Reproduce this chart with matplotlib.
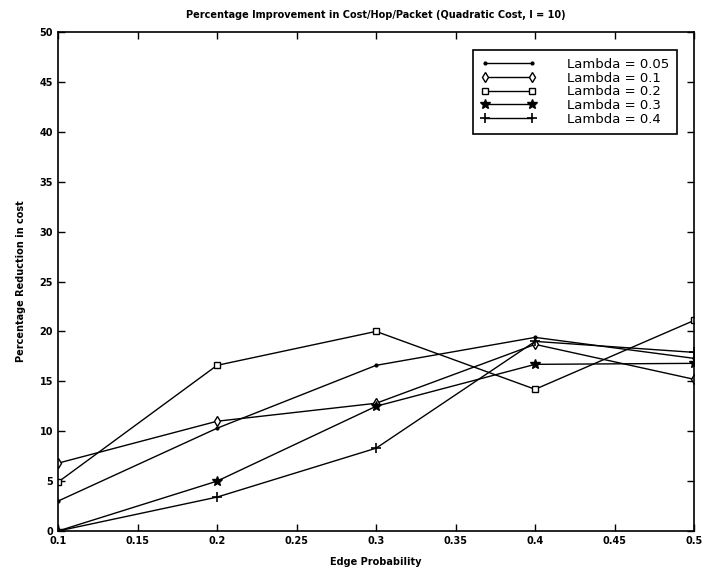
import matplotlib
matplotlib.use("Agg")
import matplotlib.pyplot as plt

# edge probability vs percentage reduction in cost, one list per lambda
edge_prob = [0.1, 0.2, 0.3, 0.4, 0.5]
lam_005 = [3.0, 10.3, 16.6, 19.4, 17.3]
lam_01 = [6.8, 11.0, 12.8, 18.7, 15.2]
lam_02 = [4.9, 16.6, 20.0, 14.2, 21.1]
lam_03 = [0.0, 5.0, 12.5, 16.7, 16.8]
lam_04 = [0.0, 3.4, 8.3, 19.0, 17.9]

labels = ["Lambda = 0.05", "Lambda = 0.1", "Lambda = 0.2", "Lambda = 0.3", "Lambda = 0.4"]
xticks = [0.1, 0.15, 0.2, 0.25, 0.3, 0.35, 0.4, 0.45, 0.5]
xticklabels = ["0.1", "0.15", "0.2", "0.25", "0.3", "0.35", "0.4", "0.45", "0.5"]

fig = plt.figure(figsize=(7.06, 5.71), dpi=100)
ax = fig.add_axes([0.0822, 0.070, 0.901, 0.874])

ax.plot(edge_prob, lam_005, "k-", marker=".", ms=4, lw=1, label=labels[0])
ax.plot(edge_prob, lam_01, "k-", marker="d", ms=5, mfc="white", lw=1, label=labels[1])
ax.plot(edge_prob, lam_02, "k-", marker="s", ms=4.5, mfc="white", lw=1, label=labels[2])
ax.plot(edge_prob, lam_03, "k-", marker="*", ms=7, lw=1, label=labels[3])
ax.plot(edge_prob, lam_04, "k-", marker="+", ms=7, mew=1.2, lw=1, label=labels[4])

ax.set_xlim(0.1, 0.5)
ax.set_ylim(0, 50)
ax.set_xticks(xticks)
ax.set_xticklabels(xticklabels)
ax.set_yticks(range(0, 51, 5))
ax.tick_params(direction="in", top=True, right=True, length=5, width=1, labelsize=7)
for lbl in ax.get_xticklabels() + ax.get_yticklabels():
    lbl.set_fontweight("bold")
for s in ax.spines.values():
    s.set_linewidth(1.2)

ax.set_title("Percentage Improvement in Cost/Hop/Packet (Quadratic Cost, l = 10)",
             fontsize=7, fontweight="bold", pad=10)
ax.set_xlabel("Edge Probability", fontsize=7, fontweight="bold", labelpad=8)
ax.set_ylabel("Percentage Reduction in cost", fontsize=7, fontweight="bold", labelpad=10)

leg = ax.legend(loc="upper right", bbox_to_anchor=(0.983, 0.977), fontsize=9.5,
                numpoints=2, handlelength=4.2, handletextpad=2.3, labelspacing=0.05,
                borderpad=0.6, fancybox=False, edgecolor="black", framealpha=1)
leg.get_frame().set_linewidth(1.2)

fig.savefig("out.png", dpi=100)
